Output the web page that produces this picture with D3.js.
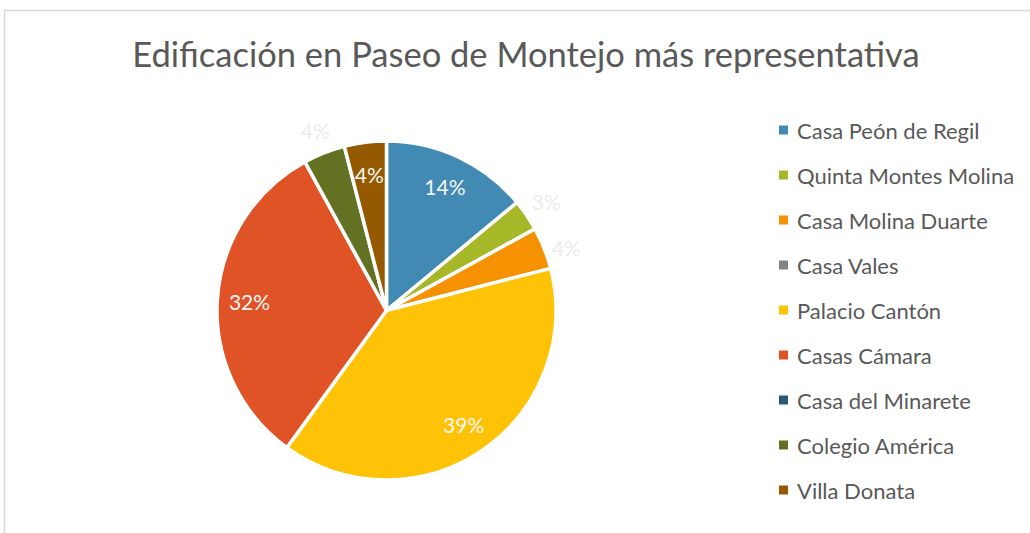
<!DOCTYPE html>
<html>
<head>
<meta charset="utf-8">
<script src="https://cdn.jsdelivr.net/npm/d3@7"></script>
<style>
  body { margin: 0; background: #fff; }
  svg { display: block; font-family: Lato, "Open Sans", sans-serif; }
</style>
</head>
<body>
<div id="chart"></div>
<script>
const title = "Edificación en Paseo de Montejo más representativa";
const categories = ["Casa Peón de Regil", "Quinta Montes Molina", "Casa Molina Duarte", "Casa Vales",
  "Palacio Cantón", "Casas Cámara", "Casa del Minarete", "Colegio América", "Villa Donata"];
const values = [14, 3, 4, 0, 39, 32, 0, 4, 4];
const colors = ["#418ab3", "#a6b727", "#f69200", "#838383", "#fec306", "#df5327", "#2b5a78", "#637222", "#955a00"];
// labels Excel pushed outside the slice
const outsideLabels = ["Quinta Montes Molina", "Casa Molina Duarte", "Colegio América"];

const width = 1030;
const height = 533;
const cx = 386.5;
const cy = 310.5;
const radius = 169.5;

const svg = d3.select("#chart")
  .append("svg")
  .attr("width", width)
  .attr("height", height);

// chart area border (only top and left visible)
svg.append("path")
  .attr("d", "M4.5," + height + "V10.5H" + width)
  .attr("fill", "none")
  .attr("stroke", "#d9d9d9")
  .attr("stroke-width", 1.5);

svg.append("text")
  .attr("x", 526)
  .attr("y", 67)
  .attr("text-anchor", "middle")
  .attr("fill", "#595959")
  .style("font-size", "34.5px")
  .text(title);

const data = categories.map((name, i) => ({ name: name, value: values[i], color: colors[i] }));

const pie = d3.pie().sort(null).value(d => d.value);
const arcs = pie(data);

const arc = d3.arc().innerRadius(0).outerRadius(radius);
const insideLabel = d3.arc().innerRadius(radius * 0.81).outerRadius(radius * 0.81);
const outsideLabel = d3.arc().innerRadius(radius * 1.14).outerRadius(radius * 1.14);

const g = svg.append("g")
  .attr("transform", "translate(" + cx + "," + cy + ")");

g.selectAll("path.slice")
  .data(arcs.filter(d => d.data.value > 0))
  .enter()
  .append("path")
  .attr("class", "slice")
  .attr("d", arc)
  .attr("fill", d => d.data.color)
  .attr("stroke", "#fff")
  .attr("stroke-width", 3.5)
  .attr("stroke-linejoin", "round");

g.selectAll("text.lbl")
  .data(arcs.filter(d => d.data.value > 0))
  .enter()
  .append("text")
  .attr("class", "lbl")
  .attr("transform", d => {
    const out = outsideLabels.includes(d.data.name);
    const p = (out ? outsideLabel : insideLabel).centroid(d);
    // nudge the lower-right outside label down a little, as Excel does
    if (d.data.name === "Casa Molina Duarte") p[1] += 8;
    return "translate(" + p + ")";
  })
  .attr("text-anchor", "middle")
  .attr("dominant-baseline", "central")
  .attr("fill", d => outsideLabels.includes(d.data.name) ? "#ececec" : "#f7f7f7")
  .style("font-size", "21px")
  .text(d => Math.round(d.data.value / d3.sum(values) * 100) + "%");

// legend
const legend = svg.append("g")
  .attr("transform", "translate(779,130)");

const rows = legend.selectAll("g")
  .data(data)
  .enter()
  .append("g")
  .attr("transform", (d, i) => "translate(0," + i * 45 + ")");

rows.append("rect")
  .attr("x", 0)
  .attr("y", -4.5)
  .attr("width", 9)
  .attr("height", 9)
  .attr("fill", d => d.color);

rows.append("text")
  .attr("x", 18)
  .attr("y", 0)
  .attr("dominant-baseline", "central")
  .attr("fill", "#595959")
  .style("font-size", "22px")
  .text(d => d.name);
</script>
</body>
</html>
